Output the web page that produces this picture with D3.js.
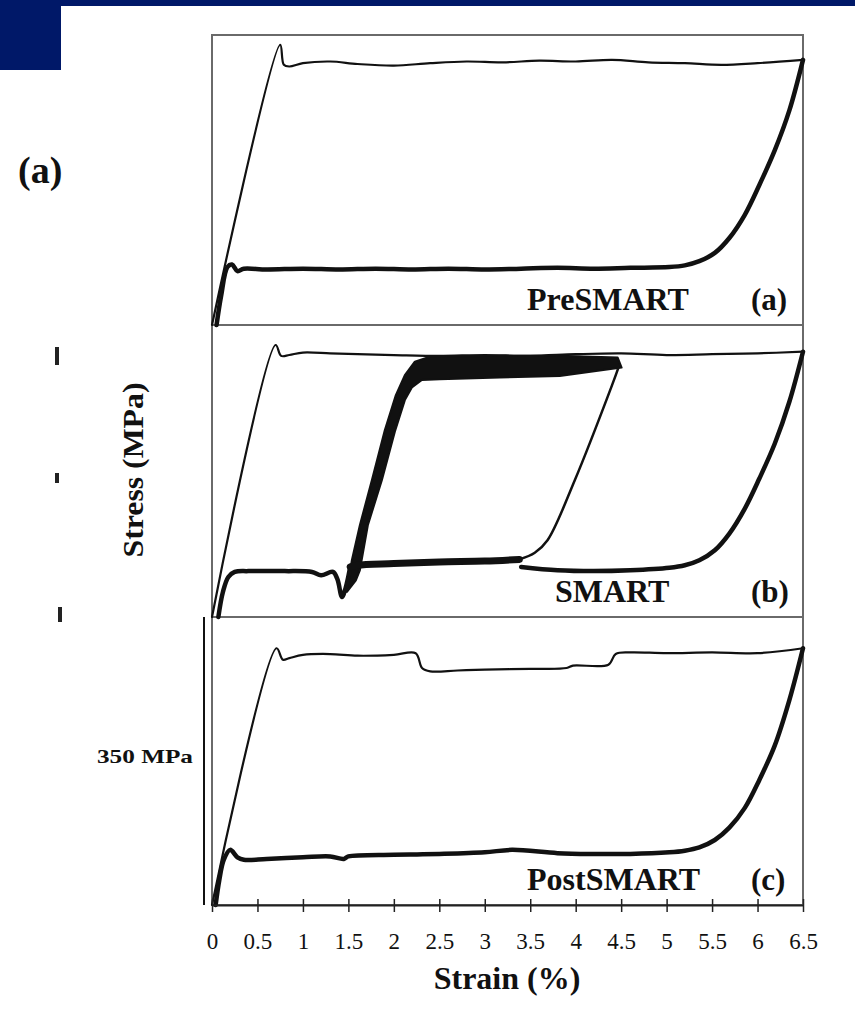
<!DOCTYPE html>
<html>
<head>
<meta charset="utf-8">
<script src="https://cdn.jsdelivr.net/npm/d3@7"></script>
<style>
  body { margin: 0; background: #fff; }
  svg { display: block; }
  text { font-family: "Liberation Serif", "DejaVu Serif", serif; }
</style>
</head>
<body>
<div id="chart"></div>
<script>
// strain (%) , stress (MPa)
var strainTicks = [0, 0.5, 1, 1.5, 2, 2.5, 3, 3.5, 4, 4.5, 5, 5.5, 6, 6.5];
var panelNames = ["PreSMART", "SMART", "PostSMART"];
var panelTags = ["(a)", "(b)", "(c)"];

// (a) PreSMART
var preLoad = [[0, 0], [0.75, 338], [0.79, 314], [0.85, 312], [1.0, 316], [1.3, 318], [1.6, 315],
    [2.0, 313], [2.4, 316], [2.8, 318], [3.2, 317], [3.6, 319], [4.0, 318], [4.4, 320], [4.8, 317],
    [5.2, 316], [5.6, 314], [6.0, 316], [6.5, 320]];
var preUnload = [[6.5, 320], [6.35, 259], [6.19, 211], [6.02, 169], [5.86, 133], [5.69, 105],
    [5.53, 87], [5.36, 77], [5.2, 72], [5.03, 70], [4.6, 69], [4.2, 68], [3.8, 69], [3.4, 68],
    [3.0, 67], [2.6, 68], [2.2, 67], [1.8, 68], [1.4, 67], [1.0, 68], [0.6, 67], [0.35, 68],
    [0.28, 65], [0.22, 73], [0.17, 70], [0.1, 35], [0.05, 0]];

// (b) SMART
var smartLoad = [[0, 0], [0.7, 326], [0.76, 313], [0.85, 314], [1.0, 317], [1.3, 316], [1.6, 315],
    [2.0, 314], [2.5, 313], [3.0, 314], [3.5, 313], [4.0, 315], [4.5, 316], [5.0, 314], [5.5, 315],
    [6.0, 316], [6.5, 318]];
var smartUnload = [[6.5, 318], [6.35, 258], [6.19, 208], [6.02, 166], [5.86, 130], [5.69, 100],
    [5.53, 80], [5.36, 68], [5.2, 62], [5.03, 59], [4.6, 56], [4.2, 55], [3.8, 56], [3.4, 60]];
var smartFirst = [[0.07, 0], [0.12, 30], [0.18, 48], [0.25, 54], [0.4, 55], [0.8, 55], [1.1, 54],
    [1.2, 50], [1.33, 54], [1.38, 45], [1.43, 24], [1.47, 35], [1.52, 60]];
var smartLower = [[1.52, 60], [1.6, 62], [2.0, 64], [2.5, 66], [3.0, 67], [3.38, 69]];
var smartPartial = [[4.48, 302], [4.40, 278], [3.99, 164], [3.69, 92], [3.55, 77], [3.38, 69]];
var bandOuter = [[1.484, 30], [1.538, 68], [1.626, 110], [1.758, 164], [1.901, 224], [2.022, 266],
    [2.121, 290], [2.231, 306], [2.396, 312], [3.165, 313], [3.824, 313], [4.462, 311]];
var bandInner = [[4.505, 299], [3.824, 289], [3.165, 287], [2.505, 285], [2.308, 284], [2.198, 275],
    [2.121, 260], [2.011, 222], [1.868, 164], [1.714, 110], [1.626, 56], [1.582, 44]];

// (c) PostSMART
var postLoad = [[0, 0], [0.71, 312], [0.78, 298], [0.85, 300], [1.0, 304], [1.3, 305], [1.6, 303],
    [2.0, 304], [2.24, 306], [2.31, 288], [2.4, 284], [2.7, 285], [3.0, 286], [3.5, 287], [3.9, 288],
    [3.97, 291], [4.36, 292], [4.44, 305], [4.6, 307], [5.0, 306], [5.5, 307], [6.0, 306], [6.5, 312]];
var postUnload = [[6.5, 312], [6.35, 249], [6.19, 194], [6.02, 152], [5.86, 118], [5.69, 94],
    [5.53, 79], [5.36, 70], [5.2, 66], [5.03, 64], [4.6, 62], [4.2, 62], [3.8, 63], [3.3, 67],
    [3.0, 64], [2.5, 62], [2.0, 61], [1.5, 59], [1.45, 56], [1.3, 59], [1.0, 58], [0.6, 56],
    [0.35, 55], [0.28, 58], [0.2, 67], [0.13, 55], [0.08, 30], [0.04, 0]];

var scaleBarMPa = 350;

function draw() {
    var w = 855, h = 1010;
    var left = 212, right = 803;
    var panelTop = [35, 325, 617];
    var panelBottom = [325, 617, 905];

    var svg = d3.select("#chart").append("svg")
        .attr("width", w)
        .attr("height", h);

    svg.append("rect").attr("width", w).attr("height", h).attr("fill", "#fff");

    // slide decoration
    svg.append("rect").attr("x", 0).attr("y", 0).attr("width", w).attr("height", 6).attr("fill", "#001868");
    svg.append("rect").attr("x", 0).attr("y", 0).attr("width", 61).attr("height", 70).attr("fill", "#001868");

    var xScale = d3.scaleLinear().domain([0, 6.5]).range([left, right]);

    var yScales = panelTop.map(function (t, i) {
        return d3.scaleLinear().domain([0, 350]).range([panelBottom[i], t]);
    });

    // frames
    panelTop.forEach(function (t, i) {
        svg.append("rect")
            .attr("x", left).attr("y", t)
            .attr("width", right - left).attr("height", panelBottom[i] - t)
            .attr("fill", "none")
            .attr("stroke", "#6a6a6a")
            .attr("stroke-width", 2);
    });

    function line(y) {
        return d3.line()
            .x(function (d) { return xScale(d[0]); })
            .y(function (d) { return y(d[1]); })
            .curve(d3.curveCatmullRom.alpha(0.5));
    }

    function plot(data, y, sw) {
        svg.append("path")
            .datum(data)
            .attr("d", line(y))
            .attr("fill", "none")
            .attr("stroke", "#111")
            .attr("stroke-width", sw)
            .attr("stroke-linejoin", "round")
            .attr("stroke-linecap", "round");
    }

    var ya = yScales[0], yb = yScales[1], yc = yScales[2];

    plot(preLoad, ya, 2.2);
    plot(preUnload, ya, 4.5);

    // cycling band in SMART
    svg.append("path")
        .datum(bandOuter.concat(bandInner))
        .attr("d", d3.line()
            .x(function (d) { return xScale(d[0]); })
            .y(function (d) { return yb(d[1]); })
            .curve(d3.curveLinearClosed))
        .attr("fill", "#111")
        .attr("stroke", "#111")
        .attr("stroke-width", 2)
        .attr("stroke-linejoin", "round");
    plot(smartLoad, yb, 2.2);
    plot(smartUnload, yb, 4.5);
    plot(smartFirst, yb, 4.5);
    plot(smartLower, yb, 7);
    plot(smartPartial, yb, 2.5);

    plot(postLoad, yc, 2.2);
    plot(postUnload, yc, 4.5);

    // 350 MPa scale bar
    svg.append("line")
        .attr("x1", 204).attr("x2", 204)
        .attr("y1", yc(0)).attr("y2", yc(scaleBarMPa))
        .attr("stroke", "#111")
        .attr("stroke-width", 2);
    svg.append("text")
        .attr("x", 97).attr("y", 763)
        .attr("textLength", 96)
        .attr("lengthAdjust", "spacingAndGlyphs")
        .style("font-size", "19px")
        .style("font-weight", "bold")
        .attr("fill", "#111")
        .text(scaleBarMPa + " MPa");

    // panel labels
    var nameX = [527, 555, 527];
    panelBottom.forEach(function (b, i) {
        svg.append("text")
            .attr("x", nameX[i]).attr("y", b - 15)
            .style("font-size", "32px")
            .style("font-weight", "bold")
            .attr("fill", "#111")
            .text(panelNames[i]);
        svg.append("text")
            .attr("x", 751).attr("y", b - 15)
            .style("font-size", "31px")
            .style("font-weight", "bold")
            .attr("fill", "#111")
            .text(panelTags[i]);
    });

    // x axis
    var xAxis = d3.axisBottom(xScale)
        .tickValues(strainTicks)
        .tickFormat(function (d) { return String(d); })
        .tickSize(7)
        .tickSizeOuter(0);

    var gx = svg.append("g")
        .attr("transform", "translate(0," + panelBottom[2] + ")")
        .call(xAxis);
    gx.select(".domain").attr("stroke", "#222").attr("stroke-width", 2);
    gx.selectAll(".tick line").attr("y1", -6).attr("stroke", "#222").attr("stroke-width", 1.5);
    gx.selectAll(".tick text")
        .attr("y", 44).attr("dy", null)
        .style("font-family", "Liberation Serif")
        .style("font-size", "23px")
        .attr("fill", "#111");

    svg.append("text")
        .attr("x", 507).attr("y", 989)
        .attr("text-anchor", "middle")
        .style("font-size", "32px")
        .style("font-weight", "bold")
        .attr("fill", "#111")
        .text("Strain (%)");

    svg.append("text")
        .attr("transform", "translate(143,470) rotate(-90)")
        .attr("text-anchor", "middle")
        .attr("textLength", 175)
        .attr("lengthAdjust", "spacingAndGlyphs")
        .style("font-size", "30px")
        .style("font-weight", "bold")
        .attr("fill", "#111")
        .text("Stress (MPa)");

    // clipped figure label on the left
    svg.append("clipPath").attr("id", "leftclip")
        .append("rect").attr("x", 0).attr("y", 100).attr("width", 62).attr("height", 120);
    svg.append("text")
        .attr("x", 18).attr("y", 183)
        .attr("clip-path", "url(#leftclip)")
        .style("font-size", "38px")
        .style("font-weight", "bold")
        .attr("fill", "#111")
        .text("(a)");

    // remnants of cropped tick labels
    [[55, 347, 18], [55, 473, 10], [58, 607, 15]].forEach(function (m) {
        svg.append("rect").attr("x", m[0]).attr("y", m[1]).attr("width", 4).attr("height", m[2]).attr("fill", "#222");
    });
}

window.onload = draw;
</script>
</body>
</html>
